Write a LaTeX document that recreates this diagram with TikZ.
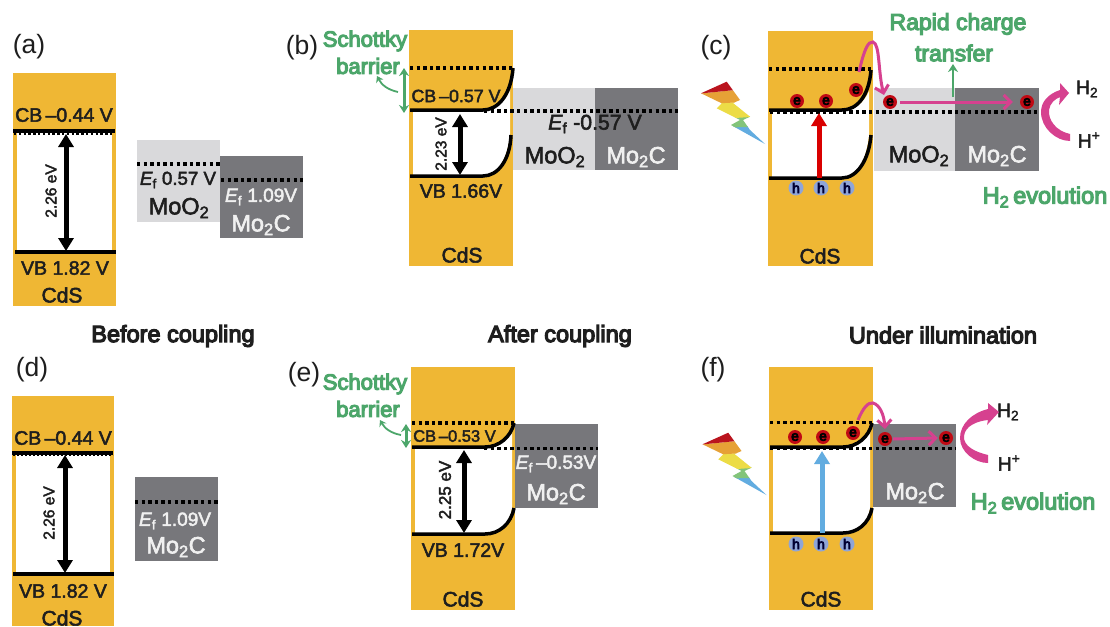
\documentclass[tikz,border=0pt]{standalone}
\usepackage{fontspec}
\setmainfont[FakeBold=2.5]{Liberation Sans}
\newfontfamily\heavyfont[FakeBold=5]{Liberation Sans}
\newfontfamily\plainfont{Liberation Sans}
\usetikzlibrary{arrows.meta}
\definecolor{cds}{HTML}{EFB734}
\definecolor{moo}{HTML}{D9D9DB}
\definecolor{moc}{HTML}{77777B}
\definecolor{grn}{HTML}{4CA66A}
\definecolor{pnk}{HTML}{D6418F}
\definecolor{elec}{HTML}{C00A14}
\definecolor{hole}{HTML}{8FA5D8}
\definecolor{txt}{HTML}{1E1E1E}
\definecolor{boltblue}{HTML}{62ACE0}
\definecolor{boltgreen}{HTML}{82C47A}
\definecolor{boltyellow}{HTML}{ECDC46}
\definecolor{boltorange}{HTML}{E6A136}
\definecolor{boltred}{HTML}{BA141E}
\newcommand{\Ef}{\textit{E}\textsubscript{f}}
\newcommand{\fs}[1]{\fontsize{#1}{#1}\selectfont}
\tikzset{
  lab/.style={font=\fs{19.5},text=txt,inner sep=0pt},
  panel/.style={font=\fs{26.5}\plainfont,text=txt,inner sep=0pt},
  name lab/.style={font=\fs{21},text=txt,inner sep=0pt},
  mat lab/.style={font=\fs{23.5},text=txt,inner sep=0pt},
  small lab/.style={font=\fs{15.5},text=txt,inner sep=0pt},
  white lab/.style={text=white!94!black,inner sep=0pt},
  gtext/.style={font=\fs{22}\heavyfont,text=grn,inner sep=0pt},
  title/.style={font=\fs{23.5}\heavyfont,text=txt,inner sep=0pt},
  band/.style={line width=3.5pt,black},
  dots/.style={line width=3.8pt,black,dash pattern=on 3.4pt off 3.2pt},
  gap/.style={line width=5pt,black,{Triangle[width=15pt,length=13pt]}-{Triangle[width=15pt,length=13pt]}},
  garrow/.style={line width=3pt,grn,{Stealth[width=10pt,length=8pt]}-{Stealth[width=10pt,length=8pt]}},
  gthin/.style={line width=1.8pt,grn,-{Stealth[width=8pt,length=6pt]}},
  pink arrow/.style={line width=3pt,pnk,-{Straight Barb[width=14pt,length=7pt]}},
  pump/.style={line width=5pt,-{Triangle[width=15pt,length=13pt]}},
  electron/.style={circle,fill=elec,minimum size=14pt,inner sep=0pt,font=\fs{14}\heavyfont,text=black},
  holep/.style={circle,fill=hole,minimum size=15pt,inner sep=0pt,font=\fs{14}\heavyfont,text=black!80!blue},
}
% lightning bolt, drawn once and shifted
\newcommand{\bolt}[1]{%
  \begin{scope}[shift={#1}]
    \clip (701,93.3) -- (726.7,81.7) -- (740,100) -- (733,103) -- (750,116.7) -- (743,120) -- (750,130) -- (765,144)
          -- (731,125) -- (740,120) -- (716.7,108.3) -- (721.7,103.3) -- cycle;
    \fill[boltblue] (720,126) rectangle (770,150);
    \fill[boltgreen] (720,118.5) -- (755,116) -- (755,127) -- (720,127.5) -- cycle;
    \fill[boltyellow] (705,104) -- (755,101) -- (755,116.7) -- (720,119) -- cycle;
    \fill[boltorange] (695,94) -- (735,90) -- (745,102) -- (705,104) -- cycle;
    \fill[boltred] (695,94) -- (735,90) -- (735,75) -- (695,75) -- cycle;
  \end{scope}}
\begin{document}
\begin{tikzpicture}[x=1pt,y=-1pt]
\useasboundingbox (0,0) rectangle (1110,626);
\fill[white] (0,0) rectangle (1110,626);

% ---------- (a)
\node[panel] (la) at (29,47) {(a)};
\fill[cds] (13,73) rectangle (116,306);
\fill[white] (17,132) rectangle (112,252);
\draw[band] (13,131) -- (115,131);
\draw[dots,line width=2pt,dash pattern=on 2.4pt off 2.4pt] (14,134) -- (114,134);
\draw[band] (15,252) -- (116,252);
\coordinate (a1) at (66,134); \coordinate (a2) at (66,251);
\draw[gap] (a1) -- (a2);
\node[lab] (acb) at (64,115) {CB\,–0.44 V};
\node[lab] (avb) at (65,268) {VB 1.82 V};
\node[name lab] (acds) at (62,295) {CdS};
\node[small lab,rotate=90] (aeg) at (51,191) {2.26 eV};
\fill[moo] (137,140) rectangle (220,222);
\fill[moc] (220,156) rectangle (303,238);
\draw[dots] (137,164) -- (220,164);
\draw[dots] (221,180) -- (303,180);
\node[lab,font=\fs{18.7}] (aef1) at (178,180) {\Ef{} 0.57 V};
\node[mat lab] (amo) at (179,208) {MoO\textsubscript{2}};
\node[lab,font=\fs{19},white lab] (aef2) at (261,197) {\Ef{} 1.09V};
\node[mat lab,white lab] (amc) at (261,225) {Mo\textsubscript{2}C};

% ---------- (b)
\node[panel] (lb) at (302,48) {(b)};
\fill[cds] (409,30) rectangle (513,266);
\fill[white] (413,110) -- (483,110) .. controls (495,110) and (505,102) .. (510,90) -- (510,135)
  .. controls (507,160) and (497,176) .. (483,176) -- (413,176) -- cycle;
\fill[moo] (513,88) rectangle (595,170);
\fill[moc] (595,88) rectangle (678,170);
\draw[band] (410,110) -- (483,110) .. controls (498,110) and (511,95) .. (513,68);
\draw[band] (410,176) -- (483,176) .. controls (498,176) and (510,160) .. (511,135);
\draw[dots] (410,68) -- (512,68);
\draw[dots] (484,111) -- (678,111);
\coordinate (b1) at (460,114); \coordinate (b2) at (460,175);
\draw[gap] (b1) -- (b2);
\node[lab,font=\fs{17.8}] (bcb) at (456,96) {CB\,–0.57 V};
\node[small lab,rotate=90] (beg) at (441,144) {2.23 eV};
\node[lab] (bvb) at (461,191) {VB 1.66V};
\node[name lab] (bcds) at (462,255) {CdS};
\node[lab,font=\fs{21.3}] (bef) at (595,124) {\Ef{} -0.57 V};
\node[mat lab] (bmo) at (555,157) {MoO\textsubscript{2}};
\node[mat lab,white lab] (bmc) at (636,157) {Mo\textsubscript{2}C};
\node[gtext] (bs1) at (365,41) {Schottky};
\node[gtext] (bs2) at (368,66) {barrier};
\coordinate (bg1) at (404,68); \coordinate (bg2) at (404,113);
\draw[garrow] (bg1) -- (bg2);
\coordinate (bc1) at (398,92); \coordinate (bc2) at (377,76);
\draw[gthin] (bc1) to[bend left=25] (bc2);

% ---------- (c)
\node[panel] (lc) at (716,48) {(c)};
\bolt{(0,0)}
\fill[cds] (768,31) rectangle (873,266);
\fill[white] (772,111) -- (842,111) .. controls (854,111) and (864,103) .. (869,91) -- (869,135)
  .. controls (866,162) and (856,178) .. (842,178) -- (772,178) -- cycle;
\fill[moo] (874,88) rectangle (955,171);
\fill[moc] (955,88) rectangle (1039,171);
\draw[band] (769,110) -- (842,110) .. controls (857,110) and (869,96) .. (871,70);
\draw[band] (769,178) -- (842,178) .. controls (857,178) and (869,160) .. (871,135);
\draw[dots] (769,69) -- (871,69);
\draw[dots] (770,112) -- (1039,112);
\node[electron] (ce1) at (797,101) {e};
\node[electron] (ce2) at (826,101) {e};
\node[electron] (ce3) at (856,90) {e};
\node[electron] (ce4) at (890,102) {e};
\node[electron] (ce5) at (1027,102) {e};
\node[holep] (ch1) at (796,188) {h};
\node[holep] (ch2) at (821,188) {h};
\node[holep] (ch3) at (847,188) {h};
\coordinate (cr1) at (819,178); \coordinate (cr2) at (819,113);
\draw[pump,red!85!black] (cr1) -- (cr2);
\coordinate (cp1) at (859,72); \coordinate (cp2) at (884,95);
\draw[pink arrow] (cp1) .. controls (864,50) and (868,41) .. (873,42) .. controls (880,44) and (878,72) .. (cp2);
\draw[pink arrow] ([xshift=3pt]ce4.east) -- ([xshift=-7pt]ce5.west);
\node[mat lab] (cmo) at (919,156) {MoO\textsubscript{2}};
\node[mat lab,white lab] (cmc) at (997,156) {Mo\textsubscript{2}C};
\node[name lab] (ccds) at (820,256) {CdS};
\node[gtext,font=\fs{23}\heavyfont] (crt1) at (958,24) {Rapid charge};
\node[gtext,font=\fs{23}\heavyfont] (crt2) at (954,53) {transfer};
\coordinate (cg1) at (953,97); \coordinate (cg2) at (953,64);
\draw[line width=2.6pt,grn,-{Stealth[width=10pt,length=8pt]}] (cg1) -- (cg2);
\node[lab] (ch2l) at (1087,89) {H\textsubscript{2}};
\node[lab] (chpl) at (1089,140) {H\textsuperscript{+}};
\fill[pnk] (1070,134) .. controls (1056,131) and (1048,120) .. (1049,110) .. controls (1050,103) and (1055,99) .. (1060,97)
  -- (1059,105) -- (1069,93) -- (1060,83) -- (1060,90) .. controls (1048,94) and (1041,102) .. (1041,112)
  .. controls (1041,128) and (1056,141) .. (1070,141) -- cycle;
\node[gtext,font=\fs{23.5}\heavyfont] (cev) at (1045,197) {H\textsubscript{2}\,evolution};

% ---------- titles
\node[title] (t1) at (173,336) {Before coupling};
\node[title] (t2) at (560,336) {After coupling};
\node[title] (t3) at (943,335) {Under illumination};

% ---------- (d)
\node[panel] (ld) at (32,370) {(d)};
\fill[cds] (12,396) rectangle (114,626);
\fill[white] (16,455) rectangle (110,574);
\draw[band] (12,453) -- (113,453);
\draw[dots,line width=1.6pt,dash pattern=on 2pt off 2pt] (13,455.5) -- (113,455.5);
\draw[band] (13,574) -- (114,574);
\coordinate (d1) at (65,455); \coordinate (d2) at (65,573);
\draw[gap] (d1) -- (d2);
\node[lab] (dcb) at (63,438) {CB\,–0.44 V};
\node[lab] (dvb) at (63,591) {VB 1.82 V};
\node[name lab] (dcds) at (62,618) {CdS};
\node[small lab,rotate=90] (deg) at (49,513) {2.26 eV};
\fill[moc] (135,477) rectangle (218,561);
\draw[dots] (135,502) -- (218,502);
\node[lab,font=\fs{19},white lab] (def) at (175,521) {\Ef{} 1.09V};
\node[mat lab,white lab] (dmc) at (176,547) {Mo\textsubscript{2}C};

% ---------- (e)
\node[panel] (le) at (304,375) {(e)};
\fill[cds] (411,367) rectangle (515,610);
\fill[white] (415,447) -- (485,447) .. controls (497,447) and (507,440) .. (512,430) -- (512,508)
  .. controls (509,525) and (499,534) .. (485,534) -- (415,534) -- cycle;
\fill[moc] (515,424) rectangle (598,508);
\draw[band] (412,447) -- (485,447) .. controls (499,447) and (511,437) .. (514,423);
\draw[band] (412,534) -- (485,534) .. controls (499,534) and (511,524) .. (514,508);
\draw[dots] (412,423) -- (514,423);
\draw[dots] (484,448.5) -- (598,448.5);
\coordinate (e1) at (464,450); \coordinate (e2) at (464,533);
\draw[gap] (e1) -- (e2);
\node[lab,font=\fs{16.5}] (ecb) at (454.5,436) {CB\,–0.53 V};
\node[small lab,font=\fs{17},rotate=90] (eeg) at (445,490) {2.25 eV};
\node[lab] (evb) at (463,550) {VB 1.72V};
\node[name lab] (ecds) at (463,599) {CdS};
\node[lab,font=\fs{19},white lab] (eef) at (556,464) {\Ef{}\,–0.53V};
\node[mat lab,white lab] (emc) at (556,494) {Mo\textsubscript{2}C};
\node[gtext] (es1) at (365,384) {Schottky};
\node[gtext] (es2) at (368,409) {barrier};
\coordinate (eg1) at (406,424); \coordinate (eg2) at (406,448);
\draw[garrow] (eg1) -- (eg2);
\coordinate (ec1) at (401,435); \coordinate (ec2) at (380,420);
\draw[gthin] (ec1) to[bend left=25] (ec2);

% ---------- (f)
\node[panel] (lf) at (713,370) {(f)};
\bolt{(1.5,351)}
\fill[cds] (769,367) rectangle (873,610);
\fill[white] (773,447) -- (843,447) .. controls (855,447) and (865,440) .. (870,430) -- (870,508)
  .. controls (867,525) and (857,533) .. (843,533) -- (773,533) -- cycle;
\fill[moc] (873,424) rectangle (956,507);
\draw[band] (770,447) -- (843,447) .. controls (857,447) and (869,437) .. (872,423);
\draw[band] (770,533) -- (843,533) .. controls (857,533) and (869,524) .. (872,508);
\draw[dots] (770,422.5) -- (872,422.5);
\draw[dots] (770,448.5) -- (956,448.5);
\node[electron] (fe1) at (795,437) {e};
\node[electron] (fe2) at (823,437) {e};
\node[electron] (fe3) at (853,433) {e};
\node[electron] (fe4) at (885,439) {e};
\node[electron] (fe5) at (946,438) {e};
\node[holep] (fh1) at (796,544) {h};
\node[holep] (fh2) at (821,544) {h};
\node[holep] (fh3) at (847,544) {h};
\coordinate (fb1) at (822,533); \coordinate (fb2) at (822,451);
\draw[pump,boltblue] (fb1) -- (fb2);
\coordinate (fp1) at (858,420); \coordinate (fp2) at (885,429);
\draw[pink arrow] (fp1) .. controls (863,408) and (868,402) .. (873,403) .. controls (880,405) and (884,415) .. (fp2);
\draw[pink arrow] ([xshift=1pt]fe4.east) -- ([xshift=-1pt]fe5.west);
\node[mat lab,white lab] (fmc) at (915,493) {Mo\textsubscript{2}C};
\node[name lab] (fcds) at (821,599) {CdS};
\node[lab] (fh2l) at (1008,412) {H\textsubscript{2}};
\node[lab] (fhpl) at (1009,463) {H\textsuperscript{+}};
\fill[pnk] (988,455) .. controls (975,452) and (963,446) .. (964,436) .. controls (965,426) and (977,421) .. (988,420)
  -- (987,425) -- (999,412) -- (988,403) -- (988,409) .. controls (972,413) and (960,424) .. (960,438)
  .. controls (960,452) and (975,463) .. (988,463) -- cycle;
\node[gtext,font=\fs{23.5}\heavyfont] (fev) at (1033,503) {H\textsubscript{2}\,evolution};
\end{tikzpicture}
\end{document}
